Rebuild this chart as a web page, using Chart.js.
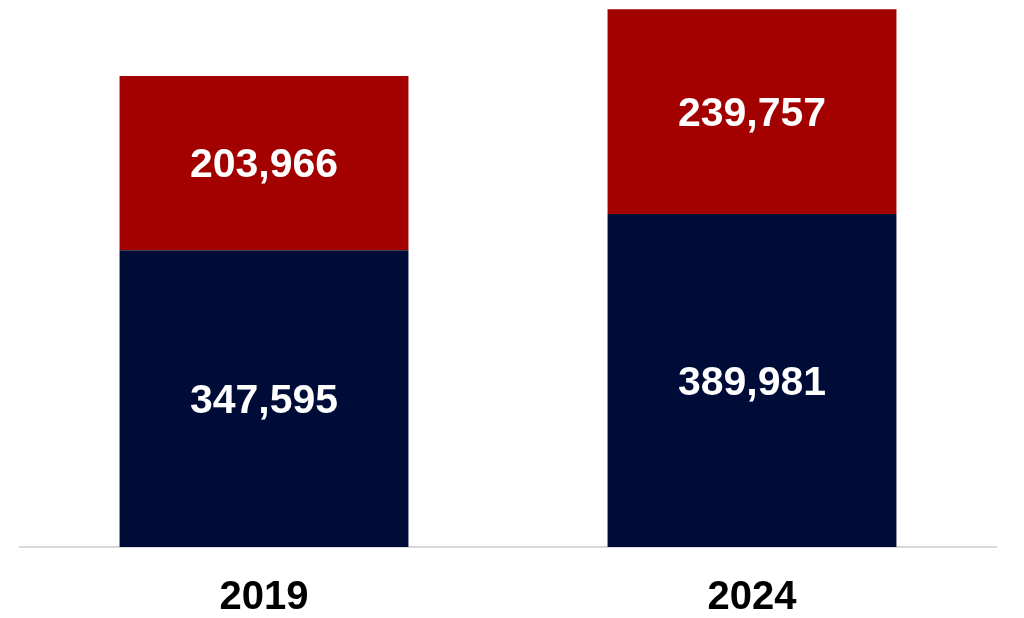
<!DOCTYPE html>
<html>
<head>
<meta charset="utf-8">
<script src="https://cdn.jsdelivr.net/npm/chart.js@4"></script>
<style>
  html, body { margin: 0; padding: 0; background: #fff; }
  #wrap { width: 1024px; height: 618px; }
</style>
</head>
<body>
<div id="wrap"><canvas id="chart"></canvas></div>
<script>
const years = ['2019', '2024'];
const bottomValues = [347595, 389981];
const topValues = [203966, 239757];
const yMax = 630000;

// white value labels centred in each segment
const segmentLabels = {
  id: 'segmentLabels',
  afterDatasetsDraw(chart) {
    const ctx = chart.ctx;
    ctx.save();
    ctx.fillStyle = '#ffffff';
    ctx.font = 'bold 41px "Liberation Sans", Arial, sans-serif';
    ctx.textAlign = 'center';
    ctx.textBaseline = 'middle';
    chart.data.datasets.forEach((ds, i) => {
      chart.getDatasetMeta(i).data.forEach((bar, j) => {
        const mid = (bar.y + bar.base) / 2;
        ctx.fillText(ds.data[j].toLocaleString('en-US'), bar.x, mid + 3);
      });
    });
    ctx.restore();
  }
};

new Chart(document.getElementById('chart'), {
  type: 'bar',
  data: {
    labels: years,
    datasets: [
      { data: bottomValues, backgroundColor: '#000C38' },
      { data: topValues, backgroundColor: '#A30000' }
    ]
  },
  options: {
    responsive: true,
    maintainAspectRatio: false,
    animation: false,
    layout: { padding: { left: 20, right: 28, top: 9, bottom: 0 } },
    datasets: { bar: { barPercentage: 1, categoryPercentage: 0.592 } },
    plugins: { legend: { display: false }, tooltip: { enabled: false } },
    scales: {
      x: {
        stacked: true,
        grid: { display: false, drawTicks: false },
        border: { display: true, color: '#d9d9d9', width: 2 },
        ticks: {
          color: '#000',
          padding: 31,
          font: { family: '"Liberation Sans", Arial, sans-serif', size: 40, weight: 'bold', lineHeight: 1 }
        },
        afterFit(scale) { scale.height = 71; }
      },
      y: {
        stacked: true,
        display: false,
        min: 0,
        max: yMax
      }
    }
  },
  plugins: [segmentLabels]
});
</script>
</body>
</html>
